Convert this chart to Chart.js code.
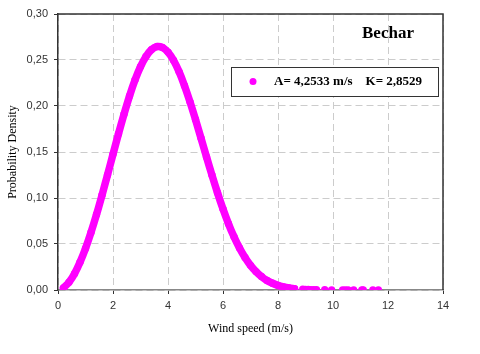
<!DOCTYPE html>
<html>
<head>
<meta charset="utf-8">
<script src="https://cdn.jsdelivr.net/npm/chart.js@4/dist/chart.umd.min.js"></script>
<style>
  html, body { margin: 0; padding: 0; background: #fff; }
  #wrap { width: 480px; height: 354px; position: relative; }
</style>
</head>
<body>
<div id="wrap"><canvas id="weibull"></canvas></div>
<script>
// Bechar station - Weibull probability density
const speeds = [0.2, 0.4, 0.6, 0.8, 1.0, 1.2, 1.4, 1.6, 1.8, 2.0, 2.2, 2.4, 2.6, 2.8, 3.0,
  3.2, 3.4, 3.6, 3.8, 4.0, 4.2, 4.4, 4.6, 4.8, 5.0, 5.2, 5.4, 5.6, 5.8, 6.0, 6.2, 6.4,
  6.6, 6.8, 7.0, 7.2, 7.4, 7.6, 7.8, 8.0, 8.2, 8.4, 8.6];
const density = [0.0023, 0.0084, 0.0177, 0.0301, 0.0451, 0.0626, 0.0820, 0.1031, 0.1251,
  0.1475, 0.1698, 0.1911, 0.2108, 0.2282, 0.2428, 0.2539, 0.2613, 0.2646, 0.2636, 0.2586,
  0.2497, 0.2374, 0.2221, 0.2045, 0.1853, 0.1651, 0.1447, 0.1247, 0.1057, 0.0880, 0.0720,
  0.0578, 0.0456, 0.0353, 0.0268, 0.0200, 0.0146, 0.0104, 0.0073, 0.0050, 0.0034, 0.0022,
  0.0014];

// isolated high speed measurements along the tail
const tailSpeeds = [8.9, 9.0, 9.1, 9.2, 9.3, 9.4, 9.7, 9.95, 10.35, 10.45, 10.55, 10.75,
  11.05, 11.1, 11.45, 11.65];
const tailDensity = [0.0008, 0.0006, 0.0005, 0.0004, 0.0003, 0.0003, 0.0002, 0.0001,
  0.0001, 0.0001, 0.0, 0.0, 0.0, 0.0, 0.0, 0.0];

const xTicks = [0, 2, 4, 6, 8, 10, 12, 14];
const yTicks = [0, 0.05, 0.10, 0.15, 0.20, 0.25, 0.30];

const siteName = "Bechar";
const legendLabel = "A= 4,2533 m/s    K= 2,8529";

const magenta = "#ff00ff";

const frame = {
  id: "frame",
  afterDraw(chart) {
    const { ctx, chartArea: a } = chart;
    ctx.save();
    ctx.strokeStyle = "#333";
    ctx.lineWidth = 1.5;
    ctx.beginPath();
    ctx.moveTo(a.left, a.top);
    ctx.lineTo(a.right, a.top);
    ctx.lineTo(a.right, a.bottom);
    ctx.stroke();

    // site title
    ctx.fillStyle = "#000";
    ctx.font = "bold 17px 'Liberation Serif'";
    ctx.textAlign = "left";
    ctx.textBaseline = "middle";
    ctx.fillText(siteName, 362, 34);

    // legend box
    ctx.fillStyle = "#fff";
    ctx.fillRect(231, 67, 207, 29);
    ctx.strokeStyle = "#333";
    ctx.lineWidth = 1;
    ctx.strokeRect(231.5, 67.5, 207, 29);
    ctx.fillStyle = magenta;
    ctx.beginPath();
    ctx.arc(253, 81.5, 3.5, 0, Math.PI * 2);
    ctx.fill();
    ctx.fillStyle = "#000";
    ctx.font = "bold 13px 'Liberation Serif'";
    ctx.fillText(legendLabel, 274, 82);
    ctx.restore();
  }
};

const ctx = document.getElementById("weibull").getContext("2d");
const chart = new Chart(ctx, {
  type: "scatter",
  data: {
    datasets: [
      {
        label: legendLabel,
        data: speeds.map((v, i) => ({ x: v, y: density[i] })),
        showLine: true,
        borderColor: magenta,
        backgroundColor: magenta,
        borderWidth: 7.5,
        borderCapStyle: "round",
        borderJoinStyle: "round",
        tension: 0.3,
        pointRadius: 3.7,
        pointBorderWidth: 0
      },
      {
        label: "tail",
        data: tailSpeeds.map((v, i) => ({ x: v, y: tailDensity[i] })),
        showLine: false,
        backgroundColor: magenta,
        borderColor: magenta,
        pointRadius: 3.7,
        pointBorderWidth: 0
      }
    ]
  },
  options: {
    responsive: true,
    maintainAspectRatio: false,
    animation: false,
    layout: { padding: { left: 0, right: 37, top: 14, bottom: 0 } },
    scales: {
      x: {
        type: "linear",
        min: 0,
        max: 14,
        afterBuildTicks: s => { s.ticks = xTicks.map(v => ({ value: v })); },
        afterFit: s => { s.height = 64; },
        grid: {
          color: "#cccccc",
          tickLength: 4,
          tickColor: "#333",
          tickBorderDash: []
        },
        border: { display: true, color: "#888", width: 1.5, dash: [7, 4] },
        ticks: {
          color: "#333",
          padding: 5,
          font: { family: "'Liberation Sans'", size: 11 }
        },
        title: {
          display: true,
          text: "Wind speed (m/s)",
          color: "#000",
          font: { family: "'Liberation Serif'", size: 12 },
          padding: { top: 0, bottom: 18 }
        }
      },
      y: {
        min: 0,
        max: 0.30,
        afterBuildTicks: s => { s.ticks = yTicks.map(v => ({ value: v })); },
        afterFit: s => { s.width = 58; },
        grid: {
          color: "#cccccc",
          tickLength: 4,
          tickColor: "#333",
          tickBorderDash: []
        },
        border: { display: true, color: "#333", width: 1.5, dash: [7, 4] },
        ticks: {
          color: "#333",
          padding: 6,
          font: { family: "'Liberation Sans'", size: 11 },
          callback: v => v.toFixed(2).replace(".", ",")
        },
        title: {
          display: true,
          text: "Probability Density",
          color: "#000",
          font: { family: "'Liberation Serif'", size: 12 },
          padding: { top: 6, bottom: 0 }
        }
      }
    },
    plugins: {
      legend: { display: false },
      tooltip: { enabled: false }
    }
  },
  plugins: [frame]
});
</script>
</body>
</html>
